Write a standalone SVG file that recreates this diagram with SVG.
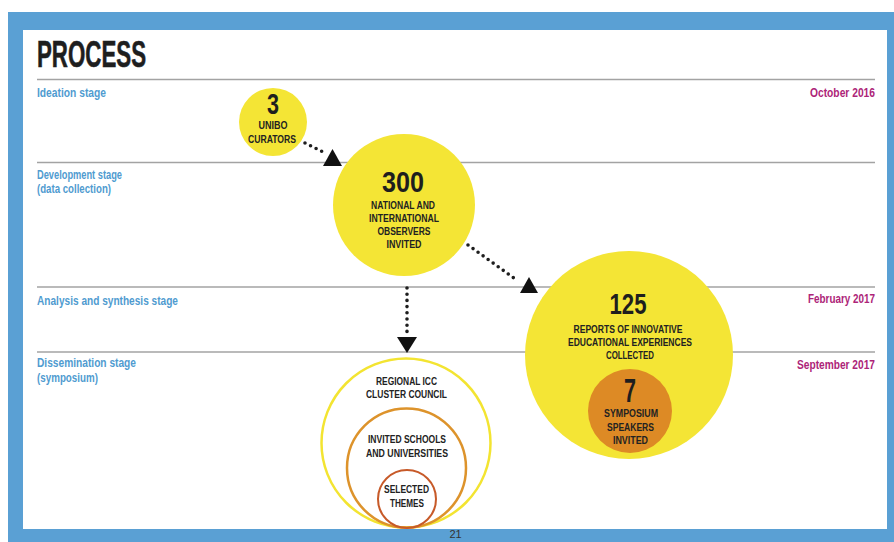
<svg xmlns="http://www.w3.org/2000/svg" width="894" height="542" viewBox="0 0 894 542">
<style>
.frame{fill:#5aa0d4}
.page{fill:#ffffff}
.rule{stroke:#a3a3a3;stroke-width:1.6;fill:none}
.stage{font-family:"Liberation Sans",Arial,sans-serif;font-weight:bold;font-size:13px;fill:#4f9bd0}
.date{font-family:"Liberation Sans",Arial,sans-serif;font-weight:bold;font-size:13px;fill:#ad2478}
.title{font-family:"Liberation Sans",Arial,sans-serif;font-weight:bold;font-size:37px;fill:#1e1e1e;stroke:#1e1e1e;stroke-width:0.6}
.num{font-family:"Liberation Sans",Arial,sans-serif;font-weight:bold;fill:#1e1e1e;text-anchor:middle}
.cap{font-family:"Liberation Sans",Arial,sans-serif;font-weight:bold;font-size:11px;fill:#222;text-anchor:middle}
.yel{fill:#f4e535}
.org{fill:#dd8a25}
.dots{stroke:#1e1e1e;stroke-width:3.6;stroke-linecap:round;stroke-dasharray:0 6.2;fill:none}
.head{fill:#111}
.pg{font-family:"Liberation Sans",Arial,sans-serif;font-size:11px;fill:#333;text-anchor:middle}
</style>
<rect class="frame" x="8" y="12" width="886" height="530"/>
<rect class="page" x="23" y="30" width="864" height="499"/>
<text class="title" x="37" y="67" textLength="109" lengthAdjust="spacingAndGlyphs">PROCESS</text>
<g id="rules">
<line class="rule" x1="37" y1="79.5" x2="875" y2="79.5"/>
<line class="rule" x1="37" y1="162.5" x2="875" y2="162.5"/>
<line class="rule" x1="37" y1="287" x2="875" y2="287"/>
<line class="rule" x1="37" y1="352" x2="875" y2="352"/>
</g>
<g id="stages">
<text class="stage" x="37" y="97" textLength="69" lengthAdjust="spacingAndGlyphs">Ideation stage</text>
<text class="stage" x="37" y="179" textLength="85" lengthAdjust="spacingAndGlyphs">Development stage</text>
<text class="stage" x="37" y="193" textLength="74" lengthAdjust="spacingAndGlyphs">(data collection)</text>
<text class="stage" x="37" y="305" textLength="141" lengthAdjust="spacingAndGlyphs">Analysis and synthesis stage</text>
<text class="stage" x="37" y="367" textLength="99" lengthAdjust="spacingAndGlyphs">Dissemination stage</text>
<text class="stage" x="37" y="382" textLength="61" lengthAdjust="spacingAndGlyphs">(symposium)</text>
</g>
<g id="dates">
<text class="date" transform="translate(810,97) scale(0.75,1)" x="0" y="0" textLength="86.7" lengthAdjust="spacingAndGlyphs">October 2016</text>
<text class="date" transform="translate(808,303) scale(0.75,1)" x="0" y="0" textLength="89.3" lengthAdjust="spacingAndGlyphs">February 2017</text>
<text class="date" transform="translate(797,369) scale(0.75,1)" x="0" y="0" textLength="104" lengthAdjust="spacingAndGlyphs">September 2017</text>
</g>
<g id="connectors">
<line class="dots" x1="305" y1="143" x2="323" y2="152"/>
<polygon class="head" points="332.5,149 342,166 323,166"/>
<line class="dots" x1="468" y1="245" x2="518" y2="281"/>
<polygon class="head" points="529,277 538,293 520,293"/>
<line class="dots" x1="407" y1="288" x2="407" y2="333"/>
<polygon class="head" points="397,337 417,337 407,353"/>
</g>
<g id="curators">
<circle class="yel" cx="273" cy="122" r="34"/>
<text class="num" x="273" y="114" font-size="29" textLength="12" lengthAdjust="spacingAndGlyphs">3</text>
<text class="cap" x="273" y="129" textLength="29" lengthAdjust="spacingAndGlyphs">UNIBO</text>
<text class="cap" x="272" y="143" textLength="48" lengthAdjust="spacingAndGlyphs">CURATORS</text>
</g>
<g id="observers">
<circle class="yel" cx="404" cy="205" r="71"/>
<text class="num" x="403" y="192" font-size="30" textLength="42" lengthAdjust="spacingAndGlyphs">300</text>
<text class="cap" x="403" y="209" textLength="64" lengthAdjust="spacingAndGlyphs">NATIONAL AND</text>
<text class="cap" x="404" y="222" textLength="70" lengthAdjust="spacingAndGlyphs">INTERNATIONAL</text>
<text class="cap" x="404" y="235" textLength="53" lengthAdjust="spacingAndGlyphs">OBSERVERS</text>
<text class="cap" x="404" y="248" textLength="35" lengthAdjust="spacingAndGlyphs">INVITED</text>
</g>
<g id="reports">
<circle class="yel" cx="629" cy="355" r="104"/>
<text class="num" x="628" y="314" font-size="30" textLength="37" lengthAdjust="spacingAndGlyphs">125</text>
<text class="cap" x="628" y="333" textLength="109" lengthAdjust="spacingAndGlyphs">REPORTS OF INNOVATIVE</text>
<text class="cap" x="630" y="346" textLength="124" lengthAdjust="spacingAndGlyphs">EDUCATIONAL EXPERIENCES</text>
<text class="cap" x="630" y="359" textLength="48" lengthAdjust="spacingAndGlyphs">COLLECTED</text>
</g>
<g id="speakers">
<circle class="org" cx="630" cy="411" r="42"/>
<text class="num" x="630" y="402" font-size="33" textLength="12" lengthAdjust="spacingAndGlyphs">7</text>
<text class="cap" x="631" y="417" textLength="54" lengthAdjust="spacingAndGlyphs">SYMPOSIUM</text>
<text class="cap" x="630.5" y="431" textLength="47" lengthAdjust="spacingAndGlyphs">SPEAKERS</text>
<text class="cap" x="630.5" y="444" textLength="35" lengthAdjust="spacingAndGlyphs">INVITED</text>
</g>
<g id="council">
<circle cx="406" cy="443" r="84.5" fill="none" stroke="#f3e431" stroke-width="2.5"/>
<text class="cap" x="406.5" y="385" textLength="61" lengthAdjust="spacingAndGlyphs">REGIONAL ICC</text>
<text class="cap" x="406.5" y="398" textLength="81" lengthAdjust="spacingAndGlyphs">CLUSTER COUNCIL</text>
</g>
<g id="schools">
<circle cx="406.5" cy="468" r="59.5" fill="none" stroke="#dd932b" stroke-width="2.5"/>
<text class="cap" x="407" y="443" textLength="78" lengthAdjust="spacingAndGlyphs">INVITED SCHOOLS</text>
<text class="cap" x="407" y="457" textLength="82" lengthAdjust="spacingAndGlyphs">AND UNIVERSITIES</text>
</g>
<g id="themes">
<circle cx="407" cy="499" r="29" fill="none" stroke="#c75a29" stroke-width="2"/>
<text class="cap" x="406.5" y="493" textLength="45" lengthAdjust="spacingAndGlyphs">SELECTED</text>
<text class="cap" x="407" y="507" textLength="34" lengthAdjust="spacingAndGlyphs">THEMES</text>
</g>
<text class="pg" x="455.5" y="538">21</text>
</svg>
